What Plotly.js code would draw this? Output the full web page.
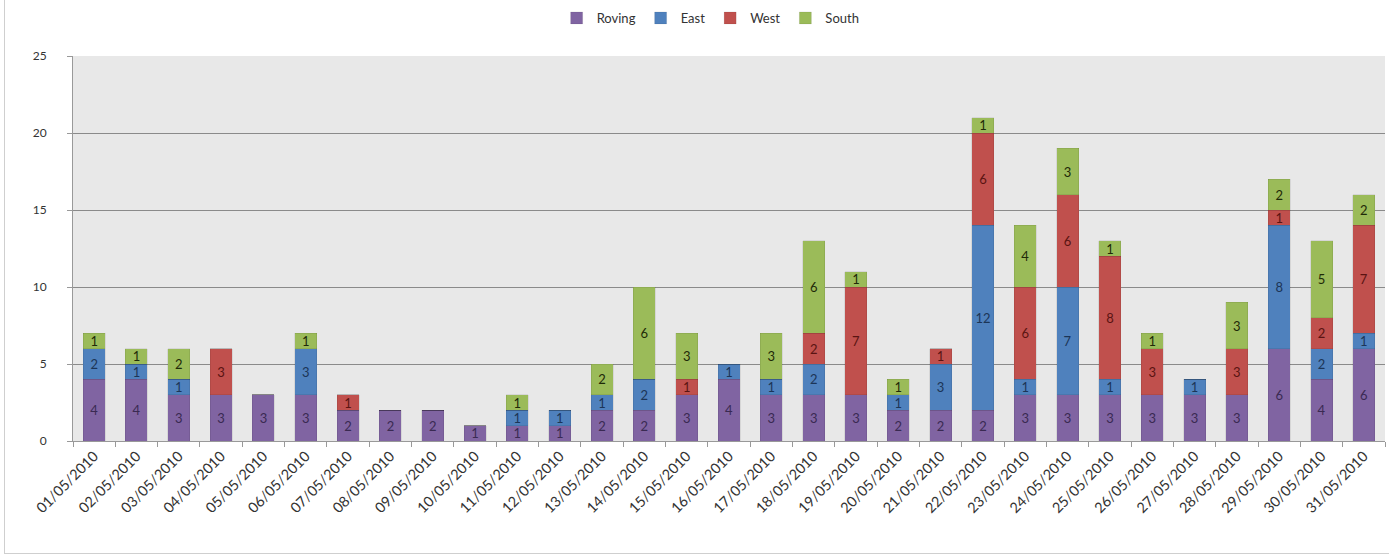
<!DOCTYPE html>
<html>
<head>
<meta charset="utf-8">
<script src="https://cdn.plot.ly/plotly-3.0.1.min.js"></script>
<style>
html,body{margin:0;padding:0;background:#fff;}
#frame{position:absolute;left:4px;top:0;width:1385px;height:553px;border-left:1px solid #cfcfcf;border-bottom:1px solid #cfcfcf;}
#chart{position:absolute;left:0;top:0;width:1389px;height:556px;}
</style>
</head>
<body>
<div id="frame"></div>
<div id="chart"></div>
<script>
const dates = ["01/05/2010","02/05/2010","03/05/2010","04/05/2010","05/05/2010","06/05/2010","07/05/2010","08/05/2010","09/05/2010","10/05/2010","11/05/2010","12/05/2010","13/05/2010","14/05/2010","15/05/2010","16/05/2010","17/05/2010","18/05/2010","19/05/2010","20/05/2010","21/05/2010","22/05/2010","23/05/2010","24/05/2010","25/05/2010","26/05/2010","27/05/2010","28/05/2010","29/05/2010","30/05/2010","31/05/2010"];
const roving = [4,4,3,3,3,3,2,2,2,1,1,1,2,2,3,4,3,3,3,2,2,2,3,3,3,3,3,3,6,4,6];
const east   = [2,1,1,0,0,3,0,0,0,0,1,1,1,2,0,1,1,2,0,1,3,12,1,7,1,0,1,0,8,2,1];
const west   = [0,0,0,3,0,0,1,0,0,0,0,0,0,0,1,0,0,2,7,0,1,6,6,6,8,3,0,3,1,2,7];
const south  = [1,1,2,0,0,1,0,0,0,0,1,0,2,6,3,0,3,6,1,1,0,1,4,3,1,1,0,3,2,5,2];
const yTicks = [0,5,10,15,20,25];

function series(name, vals, color, textColor){
  return {
    type:'bar', name:name, x:dates, y:vals,
    text: vals.map(v => v ? String(v) : ''),
    textposition:'inside', insidetextanchor:'middle', textangle:0,
    textfont:{family:'Lato, "Open Sans", sans-serif', size:13, color:textColor},
    constraintext:'none',
    marker:{color:color, line:{color:'rgba(0,0,0,0.15)', width:0.5}},
    hoverinfo:'x+y+name'
  };
}
const data = [
  series('Roving', roving, '#8064A2', '#3a2a52'),
  series('East', east, '#4F81BD', '#1c3557'),
  series('West', west, '#C0504D', '#5a1412'),
  series('South', south, '#9BBB59', '#1f2a08')
];
const layout = {
  width:1389, height:556,
  margin:{l:73, r:4, t:55, b:115},
  barmode:'stack', bargap:0.48,
  paper_bgcolor:'rgba(0,0,0,0)',
  plot_bgcolor:'#e8e8e8',
  font:{family:'Lato, "Open Sans", sans-serif', size:12, color:'#333'},
  showlegend:true,
  legend:{orientation:'h', x:0.486, xanchor:'center', y:1.096, yanchor:'middle',
          font:{size:13, color:'#333'}, itemwidth:30, traceorder:'normal', tracegroupgap:0},
  xaxis:{type:'category', tickangle:-45, ticks:'outside', tickson:'boundaries', ticklen:5,
         tickcolor:'#999', showline:true, linecolor:'#999', linewidth:1,
         tickfont:{size:14.5, color:'#333'}, showgrid:false, fixedrange:true},
  yaxis:{range:[0,25], tickvals:yTicks, ticktext:yTicks.map(String), ticks:'outside', ticklen:5,
         tickcolor:'#999', showline:true, linecolor:'#999', linewidth:1,
         showgrid:true, gridcolor:'#8a8a8a', gridwidth:1, zeroline:false,
         ticklabelstandoff:18, tickfont:{size:12, color:'#333'}, fixedrange:true}
};
Plotly.newPlot('chart', data, layout, {displayModeBar:false, staticPlot:true});
</script>
</body>
</html>
